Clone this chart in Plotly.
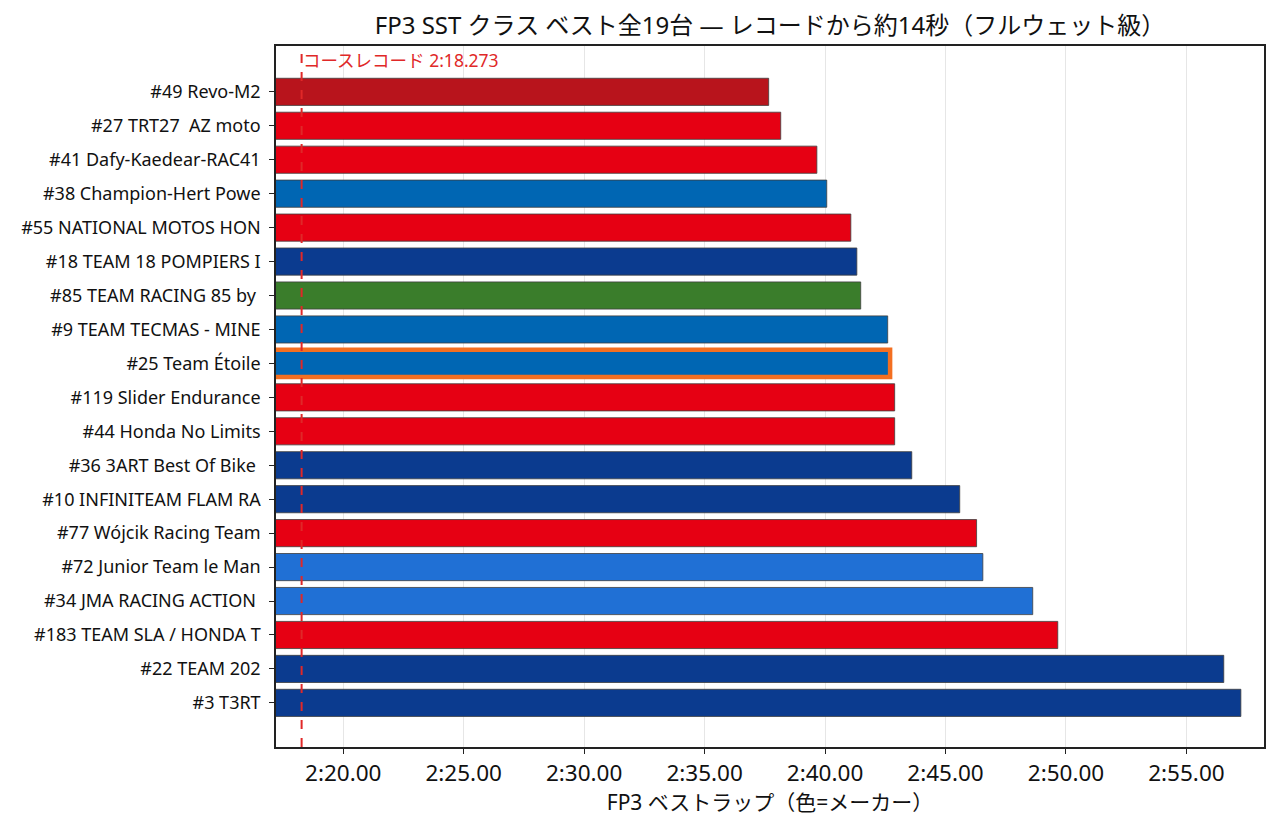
import plotly.graph_objects as go

# FP3 SST class best laps (seconds), top = fastest
teams = [
    "#49 Revo-M2", "#27 TRT27  AZ moto", "#41 Dafy-Kaedear-RAC41",
    "#38 Champion-Hert Powe", "#55 NATIONAL MOTOS HON", "#18 TEAM 18 POMPIERS I",
    "#85 TEAM RACING 85 by ", "#9 TEAM TECMAS - MINE", "#25 Team Étoile",
    "#119 Slider Endurance", "#44 Honda No Limits", "#36 3ART Best Of Bike ",
    "#10 INFINITEAM FLAM RA", "#77 Wójcik Racing Team", "#72 Junior Team le Man",
    "#34 JMA RACING ACTION ", "#183 TEAM SLA / HONDA T", "#22 TEAM 202", "#3 T3RT",
]
best_lap = [
    157.66, 158.16, 159.66, 160.07, 161.07, 161.32, 161.48, 162.60, 162.70,
    162.89, 162.89, 163.60, 165.59, 166.29, 166.55, 168.62, 169.66, 176.55, 177.26,
]
maker = [
    "Ducati", "Honda", "Honda", "Yamaha", "Honda", "Suzuki", "Kawasaki", "Yamaha",
    "Yamaha", "Honda", "Honda", "Suzuki", "Suzuki", "Honda", "BMW", "BMW", "Honda",
    "Suzuki", "Suzuki",
]
maker_colors = {
    "Ducati": "#b8141c", "Honda": "#e60013", "Yamaha": "#0066b3",
    "Suzuki": "#0b3b8f", "Kawasaki": "#3a7d2b", "BMW": "#2070d5",
}
highlight = "#25 Team Étoile"
record = 138.273
record_label = "コースレコード 2:18.273"
tick_secs = [140, 145, 150, 155, 160, 165, 170, 175]

# keep trailing / double spaces visible in tick labels
labels = [t.replace(" ", "\u00a0") for t in teams]


def fmt(s):
    m = int(s // 60)
    return f"{m}:{s - 60 * m:05.2f}"


FONT = "Noto Sans, Noto Sans CJK JP"
# page body has an 8px margin, so the figure is 8px smaller than the window
W, H = 1270, 818
L, R, T, B = 268, 14, 38, 79

fig = go.Figure()
fig.add_trace(go.Bar(
    y=labels, x=best_lap, orientation="h",
    marker=dict(
        color=[maker_colors[m] for m in maker],
        line=dict(
            color=["#f36f21" if t == highlight else "#3d3d3d" for t in teams],
            width=[4.5 if t == highlight else 0.8 for t in teams],
        ),
    ),
    width=0.8,
    base=0,
    showlegend=False,
))

fig.add_vline(x=record, line=dict(color="#e02828", width=2, dash="dash"))
fig.add_annotation(
    x=record, y=1, xref="x", yref="paper", text=record_label,
    showarrow=False, xanchor="left", yanchor="top", yshift=0, xshift=-1,
    font=dict(size=17.5, color="#e02828", family=FONT),
)

fig.update_layout(
    width=W, height=H,
    margin=dict(l=L, r=R, t=T, b=B),
    paper_bgcolor="white", plot_bgcolor="white",
    font=dict(family=FONT, color="#111"),
    title=dict(
        text="FP3 SST クラス ベスト全19台 — レコードから約14秒（フルウェット級）",
        x=(L + (W - R)) / 2 / W, xanchor="center", y=1 - 18 / H, yanchor="middle",
        font=dict(size=24),
    ),
)
fig.update_xaxes(
    range=[137.21, 178.22], automargin=False,
    tickvals=tick_secs, ticktext=[fmt(s) for s in tick_secs],
    showgrid=True, gridcolor="#e6e6e6", gridwidth=1,
    showline=True, linecolor="#222", linewidth=1.5, mirror=True,
    ticks="outside", ticklen=5, tickcolor="#222",
    tickfont=dict(size=22.5),
    title=dict(text="FP3 ベストラップ（色=メーカー）", font=dict(size=21), standoff=1),
    zeroline=False,
)
fig.update_yaxes(
    type="category", range=[18 + 1.3, -1.35], automargin=False,
    showgrid=False,
    showline=True, linecolor="#222", linewidth=1.5, mirror=True,
    ticks="outside", ticklen=5, tickcolor="#222",
    ticklabelstandoff=5,
    tickfont=dict(size=18),
)

fig.write_html("out.html")
